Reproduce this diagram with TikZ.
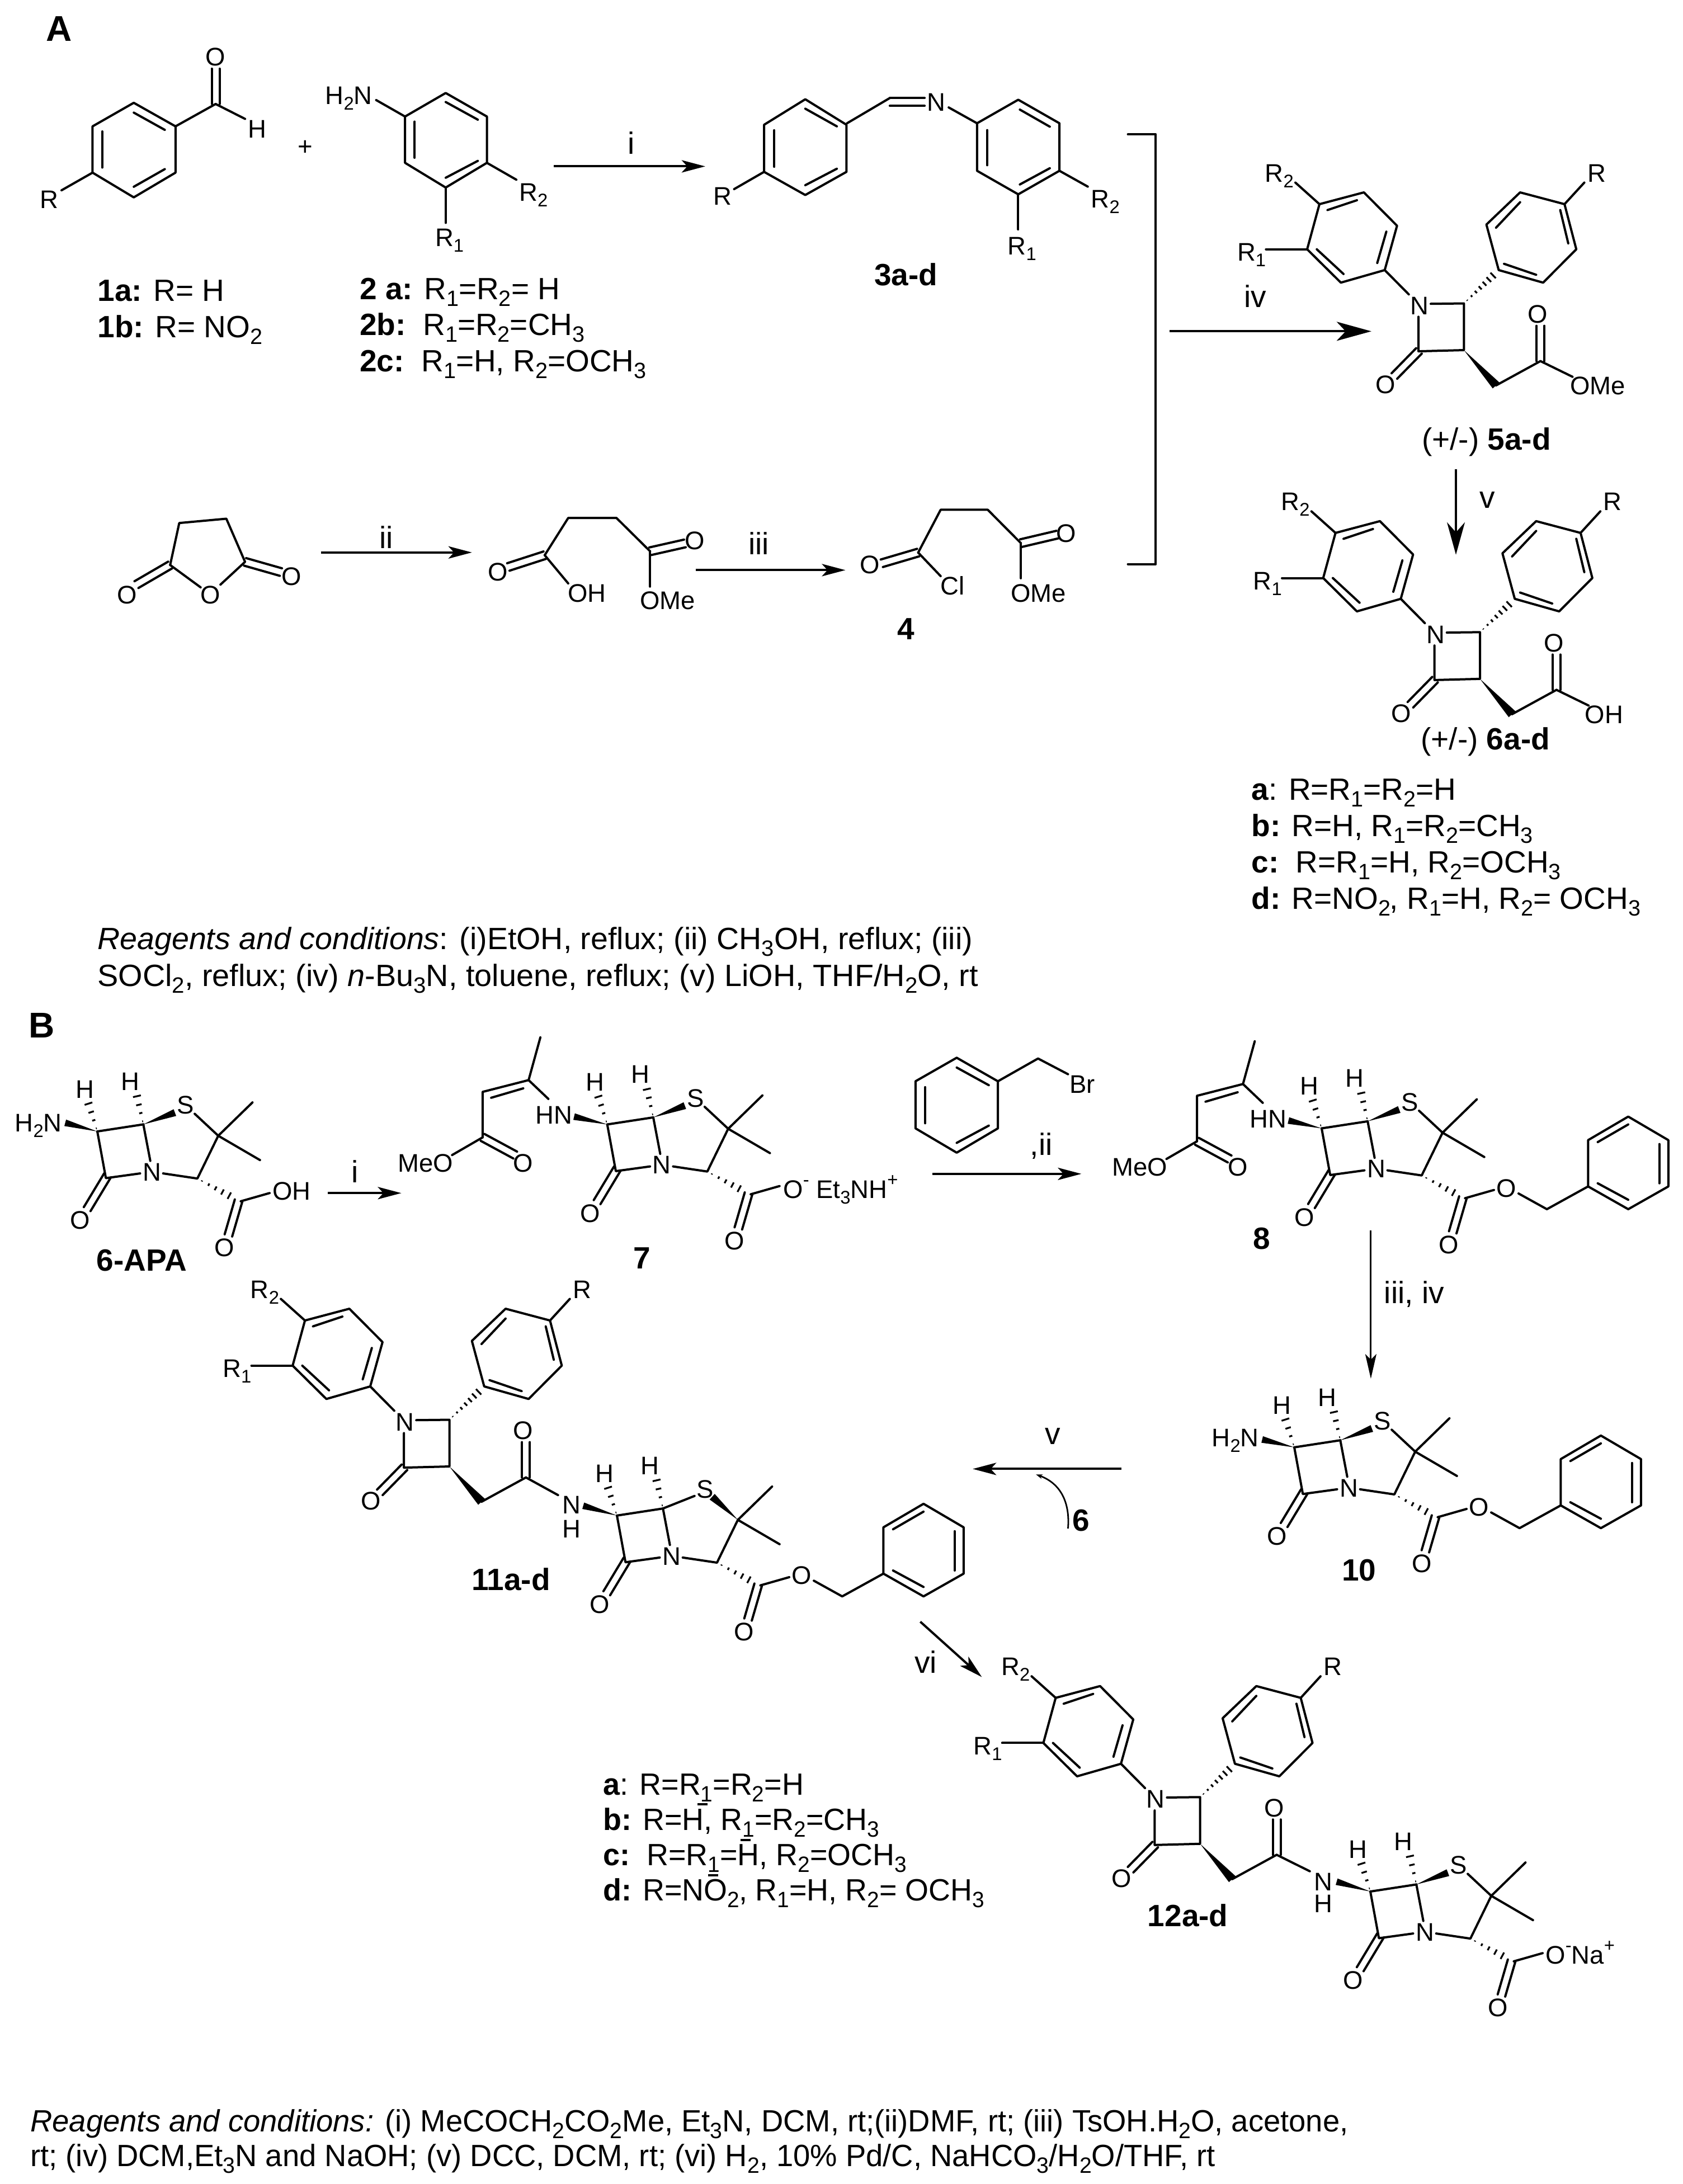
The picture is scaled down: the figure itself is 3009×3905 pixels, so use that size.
\documentclass[tikz,border=0pt]{standalone}
\usepackage{fontspec}
\setmainfont{Liberation Sans}
\usetikzlibrary{calc,arrows.meta}
\newcommand\ssb[1]{\raisebox{-0.22em}{\scalebox{0.72}{#1}}}
\newcommand\ssp[1]{\raisebox{0.48em}{\scalebox{0.72}{#1}}}
\tikzset{
 bond/.style={line width=2pt,line cap=round,line join=round},
 thinb/.style={line width=1.5pt},
 lab/.style={font=\fontsize{22.75}{27}\selectfont,inner sep=0pt,anchor=base,yshift=-8.1pt},
 labw/.style={lab,anchor=base west},
 big/.style={font=\fontsize{27.5}{32}\selectfont,inner sep=0pt,anchor=base,yshift=-9.8pt},
 bigb/.style={font=\fontsize{27.5}{32}\selectfont\bfseries,inner sep=0pt,anchor=base,yshift=-9.8pt},
 txt/.style={font=\fontsize{27.5}{32}\selectfont,inner sep=0pt,anchor=base west},
 zs/.style 2 args={shift={(#1*0.5pt,-#2*0.5pt)},x=0.47832pt,y=-0.35077pt},
 zt/.style 2 args={shift={(#1*0.5pt,-#2*0.5pt)},x=0.47832pt,y=-0.38265pt},
 arr/.style={line width=2pt,-{Stealth[length=21pt,width=11pt,inset=5pt]}},
 arrb/.style={line width=2pt,-{Stealth[length=31pt,width=17pt,inset=8pt]}},
 arrv/.style={line width=1.6pt,-{Stealth[length=29pt,width=16pt,inset=9pt]}},
 arrt/.style={line width=1.5pt,-{Stealth[length=22pt,width=10pt,inset=5pt]}}
}
\newcommand\bd[1]{\draw[bond] #1;}
\newcommand\lb[2]{\node[lab] at (#1) {#2};}
\newcommand\lbb[2]{\node[bigb] at (#1) {#2};}
\newcommand\lbt[2]{\node[big] at (#1) {#2};}
\newcommand\dbl[2]{\draw[bond] ($(#1)!3.5pt!90:(#2)$) -- ($(#2)!3.5pt!-90:(#1)$);\draw[bond] ($(#1)!3.5pt!-90:(#2)$) -- ($(#2)!3.5pt!90:(#1)$);}
\newcommand\wdg[3][3.2pt]{\fill (#2) -- ($(#3)!#1!90:(#2)$) -- ($(#3)!#1!-90:(#2)$) -- cycle;}
\newcommand\hashl[3]{\foreach \t in {#3}{\pgfmathsetmacro\dd{\t*3.9}\draw[line width=1.6pt] ($(#1)!\t!(#2)!\dd pt!90:(#2)$) -- ($(#1)!\t!(#2)!\dd pt!-90:(#2)$);}}
% beta-lactam/thiazolidine core, origin at C6
\newcommand\penamcore{%
 \bd{(0,0)--(86,-18)}\bd{(86,-18)--(99,75)}\bd{(80,107)--(16,119)--(0,0)}
 \bd{(123,107)--(187,120)--(226,11)}
 \bd{(226,11)--(290,-74)}\bd{(226,11)--(304,73)}
 \dbl{19,112}{-19,198}\dbl{264,176}{245,265}
 \bd{(268,178)--(322,157)}
 \hashl{0,0}{-18,-77}{0.1,0.37,0.64,0.92}
 \hashl{86,-18}{73,-96}{0.1,0.37,0.64,0.92}
 \hashl{187,120}{258,172}{0.12,0.3,0.48,0.66,0.84,1}
 \lb{102,103}{N}\lb{165,-68}{S}\lb{-23,-108}{H}\lb{62,-128}{H}\lb{-32,226}{O}\lb{238,296}{O}
}
\newcommand\penamwedge{\wdg{86,-18}{145,-48}\bd{(226,11)--(182,-45)}}
\newcommand\benzylester{%
 \lb{345,152}{O}\bd{(368,166)--(421,206)--(498,148)}
 \bd{(498,148)--(498,30)--(573,-30)--(648,30)--(648,148)--(573,206)--cycle}
 \bd{(516,35)--(573,-10)}\bd{(631,40)--(631,140)}\bd{(516,140)--(573,182)}
}
\newcommand\enamine{%
 \lb{-100,-25}{HN}\wdg[3pt]{0,0}{-62,-20}
 \bd{(-110,-65)--(-147,-113)--(-125,-222)}
 \bd{(-147,-113)--(-233,-83)--(-233,33)}
 \bd{(-157,-92)--(-217,-68)}
 \dbl{-233,33}{-172,78}\lb{-157,98}{O}
 \bd{(-233,33)--(-290,78)}\lb{-340,98}{MeO}
}
% diaryl azetidinone, origin at C3'
\newcommand\diaryl{%
 \bd{(-62,-118)--(0,-119)--(0,0)--(-85,3)--(-85,-85)}
 \dbl{-84,2}{-130,66}\lb{-83,-114}{N}\lb{-147,88}{O}
 \bd{(-103,-142)--(-148,-204)}
 \bd{(-148,-204)--(-125,-317)--(-187,-402)--(-270,-372)--(-293,-257)--(-230,-172)--cycle}
 \bd{(-145,-302)--(-162,-222)}\bd{(-200,-382)--(-255,-357)}\bd{(-275,-257)--(-225,-194)}
 \bd{(-270,-372)--(-315,-427)}\lb{-345,-452}{R\ssb{2}}
 \bd{(-293,-257)--(-370,-257)}\lb{-397,-250}{R\ssb{1}}
 \hashl{0,-119}{62,-200}{0.1,0.23,0.36,0.49,0.62,0.75,0.88,1}
 \bd{(65,-204)--(42,-320)--(105,-402)--(188,-372)--(210,-257)--(148,-172)--cycle}
 \bd{(60,-312)--(105,-377)}\bd{(180,-357)--(195,-272)}\bd{(135,-192)--(75,-220)}
 \bd{(188,-372)--(225,-427)}\lb{248,-452}{R}
 \wdg[4pt]{0,0}{60,90}
 \bd{(60,90)--(143,28)}\dbl{143,28}{143,-62}\lb{138,-92}{O}
}
\begin{document}
\begin{tikzpicture}[x=0.5pt,y=-0.5pt]
\path[use as bounding box,fill=white] (0,0) rectangle (3009,3905);
% ---------- Scheme A, left
\begin{scope}[zs={0}{0}]
\node[font=\fontsize{32}{36}\selectfont\bfseries,inner sep=0pt] at (110,73) {A};
\bd{(250,262)--(328,322)--(328,440)--(250,503)--(173,440)--(173,322)--cycle}
\bd{(250,287)--(308,331)}\bd{(191,335)--(191,427)}\bd{(250,476)--(308,431)}
\bd{(328,322)--(403,265)}\dbl{403,265}{403,175}\lb{403,145}{O}
\bd{(403,265)--(458,303)}\lb{481,328}{H}
\bd{(173,440)--(115,485)}\lb{92,508}{R}
\lb{571,372}{+}
\lb{652,243}{H\ssb{2}N}
\bd{(703,255)--(757,297)}
\bd{(757,297)--(833,237)--(910,297)--(910,415)--(833,478)--(757,415)--cycle}
\bd{(833,260)--(893,305)}\bd{(775,310)--(775,402)}\bd{(833,453)--(893,410)}
\bd{(910,415)--(965,458)}\lb{997,490}{R\ssb{2}}
\bd{(833,478)--(833,568)}\lb{840,605}{R\ssb{1}}
\draw[arr] (1035,424) -- (1318,424);
\lbt{1180,365}{i}
\node[txt,anchor=base west] at (182,768) {\textbf{1a:} R= H};
\node[txt,anchor=base west] at (182,860) {\textbf{1b:} R= NO\ssb{2}};
\node[txt,anchor=base west] at (672,763) {\textbf{2 a:} R\ssb{1}=R\ssb{2}= H};
\node[txt,anchor=base west] at (672,855) {\textbf{2b:}\ \ R\ssb{1}=R\ssb{2}=CH\ssb{3}};
\node[txt,anchor=base west] at (672,947) {\textbf{2c:}\ \ R\ssb{1}=H, R\ssb{2}=OCH\ssb{3}};
% imine left ring
\lb{1350,500}{R}\bd{(1372,482)--(1428,438)}
\bd{(1428,318)--(1505,253)--(1582,318)--(1582,438)--(1505,497)--(1428,438)--cycle}
\bd{(1505,277)--(1564,322)}\bd{(1447,332)--(1447,425)}\bd{(1505,472)--(1564,430)}
% anhydride
\bd{(318,1440)--(335,1333)--(423,1322)--(458,1432)--(412,1490)}
\bd{(318,1440)--(375,1497)}
\dbl{318,1440}{255,1490}\lb{238,1515}{O}
\dbl{458,1432}{525,1458}\lb{545,1468}{O}\lb{393,1515}{O}
\draw[arr] (600,1408) -- (882,1408);
\lbt{722,1370}{ii}
% monoester
\lb{931,1457}{O}\dbl{1018,1415}{950,1445}
\bd{(1018,1415)--(1062,1320)--(1152,1320)--(1215,1405)}
\dbl{1215,1405}{1280,1385}\lb{1298,1378}{O}
\bd{(1215,1405)--(1215,1495)}\lb{1248,1530}{OMe}
\bd{(1018,1415)--(1062,1487)}\lb{1097,1512}{OH}
\draw[arr] (1300,1453) -- (1580,1453);
\lbt{1418,1385}{iii}
\end{scope}
% ---------- Scheme A, right
\begin{scope}[zt={1500}{150}]
\bd{(15,92)--(95,33)}\dbl{95,42}{160,42}\lb{182,42}{N}\bd{(205,55)--(258,92)}
\bd{(258,92)--(335,37)--(412,92)--(412,203)--(335,258)--(258,203)--cycle}
\bd{(338,60)--(394,100)}\bd{(277,108)--(277,190)}\bd{(338,235)--(394,197)}
\bd{(412,203)--(465,240)}\lb{498,268}{R\ssb{2}}
\bd{(335,258)--(335,340)}\lb{342,378}{R\ssb{1}}
\lbb{125,445}{3a-d}
\bd{(540,118)--(592,118)--(592,1122)--(540,1122)}
\draw[arrb] (618,578) -- (995,578);
\lbt{778,497}{iv}
\lb{58,1123}{O}\dbl{148,1095}{80,1120}
\bd{(148,1095)--(190,995)--(278,995)--(340,1073)}
\dbl{340,1073}{408,1053}\lb{425,1050}{O}
\bd{(340,1073)--(340,1155)}\lb{373,1190}{OMe}
\bd{(148,1095)--(190,1150)}\lb{212,1172}{Cl}
\lbb{125,1272}{4}
\node[bigb,font=\fontsize{27.5}{32}\selectfont] at (1210,830) {(+/-) \textbf{5a-d}};
\draw[arrv] (1153,900) -- (1153,1100);
\lbt{1212,965}{v}
\node[bigb,font=\fontsize{27.5}{32}\selectfont] at (1208,1530) {(+/-) \textbf{6a-d}};
\end{scope}
\begin{scope}[zs={2617.3}{626}]
\diaryl
\bd{(143,28)--(203,68)}\lb{250,90}{OMe}
\end{scope}
\begin{scope}[zs={2646}{1213.8}]
\diaryl
\bd{(143,28)--(203,68)}\lb{232,90}{OH}
\end{scope}
\node[txt] at (2237,1430) {\textbf{a}: R=R\ssb{1}=R\ssb{2}=H};
\node[txt] at (2237,1495) {\textbf{b:} R=H, R\ssb{1}=R\ssb{2}=CH\ssb{3}};
\node[txt] at (2237,1560) {\textbf{c:}\ \ R=R\ssb{1}=H, R\ssb{2}=OCH\ssb{3}};
\node[txt] at (2237,1625) {\textbf{d:} R=NO\ssb{2}\hspace{-0.02em}, R\ssb{1}=H, R\ssb{2}= OCH\ssb{3}};
\node[txt] at (174,1697) {\scalebox{1.01}[1]{\textit{Reagents and conditions}: (i)EtOH, reflux; (ii) CH\ssb{3}OH, reflux; (iii)}};
\node[txt] at (174,1763) {\scalebox{1.015}[1]{SOCl\ssb{2}, reflux; (iv) \textit{n}-Bu\ssb{3}N, toluene, reflux; (v) LiOH, THF/H\ssb{2}O, rt}};
% ---------- Scheme B
\node[font=\fontsize{32}{36}\selectfont\bfseries,inner sep=0pt] at (75,1833) {B};
\begin{scope}[zs={174}{2023}]
\penamcore\penamwedge
\wdg[3pt]{0,0}{-60,-22}\lb{-110,-23}{H\ssb{2}N}\lb{363,152}{OH}
\lbb{83,327}{6-APA}
\end{scope}
\begin{scope}[zs={0}{1800}]
\draw[arr] (613,475) -- (750,475);
\lbt{663,420}{i}
\lbb{1200,640}{7}
\lbb{955,1460}{11a-d}
\end{scope}
\begin{scope}[zs={1085.7}{2010.5}]
\penamcore\penamwedge\enamine
\end{scope}
\node[lab,anchor=base west] at (1400,2126) {O\ssp{-} Et\ssb{3}NH\ssp{+}};
\begin{scope}[zs={1500}{1800}]
\bd{(143,190)--(220,130)--(297,190)--(297,310)--(220,372)--(143,310)--cycle}
\bd{(220,155)--(280,200)}\bd{(161,205)--(161,297)}\bd{(220,347)--(280,303)}
\bd{(297,190)--(372,132)--(428,172)}\lb{455,197}{Br}
\draw[arr] (175,426) -- (453,426);
\lbt{378,350}{,ii}
\lbb{790,590}{8}
\draw[arrt] (994,570) -- (994,948);
\lbt{1075,728}{iii, iv}
\lbb{972,1435}{10}
\draw[arr] (528,1178) -- (250,1178);
\lbt{400,1088}{v}
\draw[line width=1.4pt,-{Stealth[length=6pt,width=4pt]}] (428,1330) .. controls (432,1265) and (415,1215) .. (368,1192);
\lbb{452,1308}{6}
\end{scope}
\begin{scope}[zs={2362.9}{2017.5}]
\penamcore\penamwedge\enamine\benzylester
\end{scope}
\begin{scope}[zs={2314}{2587.8}]
\penamcore\penamwedge\benzylester
\wdg[3pt]{0,0}{-60,-20}\lb{-110,-25}{H\ssb{2}N}
\end{scope}
\begin{scope}[zs={803.5}{2622}]
\diaryl
\bd{(143,28)--(203,73)}\lb{228,98}{N}\lb{228,158}{H}
\end{scope}
\begin{scope}[zs={1103}{2709.8}]
\penamcore\benzylester
\bd{(86,-18)--(145,-50)}\wdg[3.4pt]{226,11}{178,-48}
\wdg[3pt]{0,0}{-63,-25}
\end{scope}
\begin{scope}[zs={1500}{2800}]
\draw[arr] (152,142) -- (267,283);
\lbt{162,245}{vi}
\lbb{652,890}{12a-d}
\end{scope}
\begin{scope}[zs={2145.7}{3296.7}]
\diaryl
\bd{(143,28)--(205,70)}\lb{230,97}{N}\lb{230,152}{H}
\end{scope}
\begin{scope}[zs={2450}{3382}]
\penamcore\penamwedge
\wdg[3pt]{0,0}{-63,-25}
\end{scope}
\node[lab,anchor=base west] at (2763,3495.5) {O\ssp{-}Na\ssp{+}};
\node[txt] at (1078,3209) {\scalebox{0.98}[1]{\textbf{a}: R=R\ssb{1}=R\ssb{2}=H}};
\node[txt] at (1078,3272) {\scalebox{0.98}[1]{\textbf{b:} R=H, R\ssb{1}=R\ssb{2}=CH\ssb{3}}};
\node[txt] at (1078,3335) {\scalebox{0.98}[1]{\textbf{c:}\ \ R=R\ssb{1}=H, R\ssb{2}=OCH\ssb{3}}};
\node[txt] at (1078,3398) {\scalebox{0.98}[1]{\textbf{d:} R=NO\ssb{2}\hspace{-0.02em}, R\ssb{1}=H, R\ssb{2}= OCH\ssb{3}}};
\draw[line width=1.8pt] (1247,3226) -- (1265,3226);
\draw[line width=1.8pt] (1324,3290) -- (1342,3290);
\draw[line width=1.8pt] (1266,3353) -- (1284,3353);
\node[txt] at (54,3811) {\scalebox{0.989}[1]{\textit{Reagents and conditions:} (i) MeCOCH\ssb{2}CO\ssb{2}Me, Et\ssb{3}N, DCM, rt;(ii)DMF, rt; (iii) TsOH.H\ssb{2}O, acetone,}};
\node[txt] at (54,3873) {\scalebox{0.989}[1]{rt; (iv) DCM,Et\ssb{3}N and NaOH; (v) DCC, DCM, rt; (vi) H\ssb{2}, 10\% Pd/C, NaHCO\ssb{3}/H\ssb{2}O/THF, rt}};
\end{tikzpicture}
\end{document}
